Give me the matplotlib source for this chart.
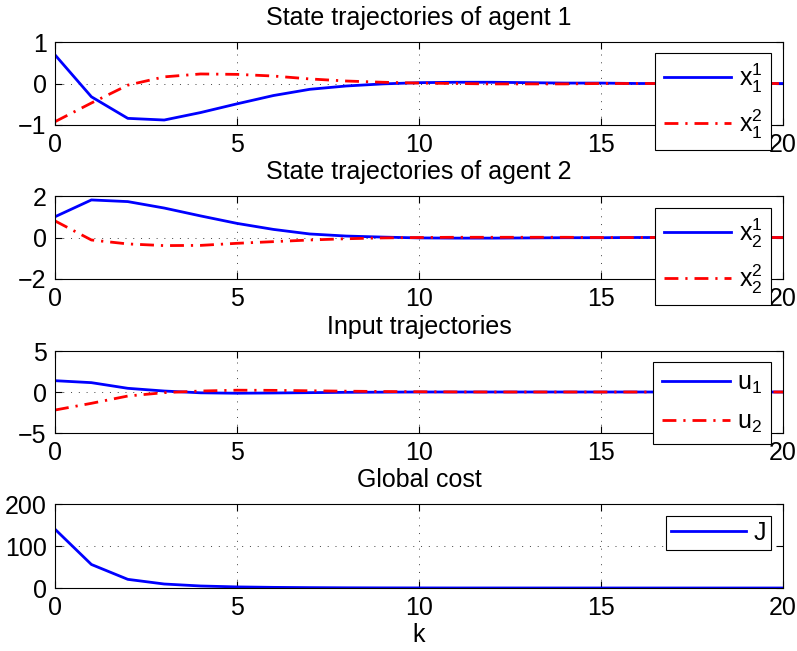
import matplotlib
matplotlib.use("Agg")
import matplotlib.pyplot as plt

plt.rcParams['font.family'] = ['Liberation Sans', 'DejaVu Sans']
plt.rcParams['mathtext.fontset'] = 'custom'
plt.rcParams['mathtext.rm'] = 'Liberation Sans'
plt.rcParams['mathtext.it'] = 'Liberation Sans'
plt.rcParams['mathtext.default'] = 'regular'
plt.rcParams['font.size'] = 18

k = list(range(21))

# agent 1 states
x1_1 = [0.69, -0.32, -0.84, -0.88, -0.70, -0.49, -0.29, -0.14, -0.06, -0.01, 0.02,
        0.03, 0.03, 0.02, 0.01, 0.01, 0.0, 0.0, 0.0, 0.0, 0.0]
x1_2 = [-0.92, -0.47, -0.04, 0.16, 0.23, 0.22, 0.18, 0.11, 0.06, 0.03, 0.01,
        0.0, -0.01, -0.01, -0.01, 0.0, 0.0, 0.0, 0.0, 0.0, 0.0]
# agent 2 states
x2_1 = [1.0, 1.81, 1.73, 1.42, 1.04, 0.68, 0.39, 0.17, 0.07, 0.02, -0.02,
        -0.03, -0.03, -0.02, -0.01, -0.01, 0.0, 0.0, 0.0, 0.0, 0.0]
x2_2 = [0.8, -0.12, -0.31, -0.39, -0.38, -0.28, -0.2, -0.12, -0.06, -0.02, 0.0,
        0.01, 0.01, 0.01, 0.01, 0.0, 0.0, 0.0, 0.0, 0.0, 0.0]
# inputs
u1 = [1.38, 1.14, 0.45, 0.12, -0.1, -0.15, -0.12, -0.08, -0.04, -0.02, 0.0,
      0.0, 0.0, 0.0, 0.0, 0.0, 0.0, 0.0, 0.0, 0.0, 0.0]
u2 = [-2.2, -1.38, -0.49, -0.08, 0.12, 0.22, 0.2, 0.15, 0.1, 0.06, 0.03,
      0.01, 0.0, 0.0, 0.0, 0.0, 0.0, 0.0, 0.0, 0.0, 0.0]
# global cost
J = [140, 56, 20.6, 9.5, 4.8, 2.6, 1.5, 0.9, 0.5, 0.3, 0.2,
     0.1, 0.1, 0.05, 0.03, 0.02, 0.01, 0.01, 0.0, 0.0, 0.0]

W, H = 797, 651
fig = plt.figure(figsize=(W / 100, H / 100), dpi=100)

dashdot = (0, (5, 2.5, 0.8, 2.5))


def make_axes(top, bottom):
    ax = fig.add_axes([55 / W, 1 - bottom / H, 728 / W, (bottom - top) / H])
    ax.set_xlim(0, 20)
    ax.set_xticks([0, 5, 10, 15, 20])
    ax.tick_params(direction='in', top=True, right=True, length=5, width=0.8, pad=6)
    ax.grid(True, color='0.25', linestyle=(0, (1, 7)), linewidth=0.7)
    for s in ax.spines.values():
        s.set_linewidth(0.8)
    return ax


def add_legend(ax, top, spacing, bpad, hlen=2.7):
    leg = ax.legend(loc='upper right', bbox_to_anchor=(771 / W, 1 - top / H),
                    bbox_transform=fig.transFigure, borderaxespad=0,
                    fancybox=False, edgecolor='black', framealpha=1,
                    handlelength=hlen, handletextpad=0.3, labelspacing=spacing,
                    borderpad=bpad)
    leg.get_frame().set_linewidth(0.8)
    return leg


ax1 = make_axes(42, 125)
ax1.plot(k, x1_1, color='blue', lw=2, label='$x_1^1$')
ax1.plot(k, x1_2, color='red', lw=2, linestyle=dashdot, label='$x_1^2$')
ax1.set_ylim(-1, 1)
ax1.set_yticks([-1, 0, 1])
ax1.set_title('State trajectories of agent 1', fontsize=18, pad=12)
add_legend(ax1, 53, 0.5, 0.35)

ax2 = make_axes(196, 279)
ax2.plot(k, x2_1, color='blue', lw=2, label='$x_2^1$')
ax2.plot(k, x2_2, color='red', lw=2, linestyle=dashdot, label='$x_2^2$')
ax2.set_ylim(-2, 2)
ax2.set_yticks([-2, 0, 2])
ax2.set_title('State trajectories of agent 2', fontsize=18, pad=12)
add_legend(ax2, 208, 0.5, 0.35)

ax3 = make_axes(351, 433)
ax3.plot(k, u1, color='blue', lw=2, label='$u_1$')
ax3.plot(k, u2, color='red', lw=2, linestyle=dashdot, label='$u_2$')
ax3.set_ylim(-5, 5)
ax3.set_yticks([-5, 0, 5])
ax3.set_title('Input trajectories', fontsize=18, pad=12)
add_legend(ax3, 362, 0.55, 0.35)

ax4 = make_axes(504, 588)
ax4.plot(k, J, color='blue', lw=2, label='J')
ax4.set_ylim(0, 200)
ax4.set_yticks([0, 100, 200])
ax4.set_title('Global cost', fontsize=18, pad=12)
ax4.set_xlabel('k', fontsize=18, labelpad=2)
add_legend(ax4, 516, 0.5, 0.2, hlen=3.0)

fig.savefig('out.png', dpi=100)
